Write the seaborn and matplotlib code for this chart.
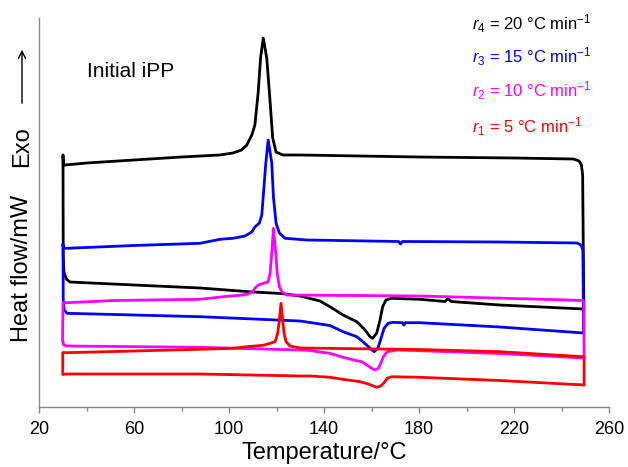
import numpy as np
import pandas as pd
import matplotlib
matplotlib.use("Agg")
import matplotlib.pyplot as plt
import seaborn as sns

# DSC loops of initial iPP: cooling trace (upper, exotherm) and heating trace
# (lower, endotherm) joined at 30 and 250 °C, one closed loop per scan rate.

rate_labels = ["r4", "r3", "r2", "r1"]

r4_temp = [249.4, 248.9, 248.4, 247.4, 245.0, 220.0, 180.0, 130.0, 122.7, 119.8,
           118.4, 118.0, 117.0, 115.9, 114.4, 113.3, 112.3, 110.9, 109.6, 107.5,
           105.3, 101.7, 96.2, 80.0, 60.0, 40.0, 31.0, 30.3, 30.1, 30.2,
           30.5, 31.5, 33.0, 60.0, 87.8, 110.0, 122.0, 129.9, 134.1, 138.3, 142.5,
           148.0, 153.8, 157.3, 159.4, 160.5, 162.2, 163.6, 164.7, 166.1, 168.5,
           180.4, 191.0, 192.2, 193.5, 214.0, 249.4]
r4_flow = [9.7, 23.1, 24.1, 24.5, 24.7, 24.8, 24.9, 25.1, 25.1, 25.4,
           26.8, 28.1, 31.4, 34.8, 36.8, 34.8, 31.4, 28.1, 27.1, 26.1,
           25.6, 25.3, 25.1, 24.9, 24.6, 24.3, 24.1, 24.1, 25.1, 15.1,
           13.4, 12.7, 12.4, 12.1, 11.8, 11.4, 11.25, 11.0, 10.75, 10.5, 9.93,
           9.1, 8.43, 7.6, 6.93, 6.77, 7.3, 8.6, 9.93, 10.6, 10.77,
           10.67, 10.45, 10.75, 10.45, 10.1, 9.7]

r3_temp = [249.3, 249.0, 248.2, 246.5, 214.0, 173.0, 172.2, 171.4, 132.7, 123.6,
           121.2, 119.8, 118.7, 118.0, 116.5, 115.5, 114.4, 113.8, 112.8, 110.9,
           109.6, 106.7, 101.7, 96.2, 87.8, 60.0, 31.8, 30.3, 30.1, 30.2,
           30.6, 31.8, 60.0, 87.8, 129.9, 134.1, 138.3, 142.5, 148.0, 153.8,
           156.4, 159.4, 161.1, 162.7, 164.0, 165.3, 167.0, 169.1, 173.0, 173.6,
           174.2, 180.4, 214.0, 249.3]
r3_flow = [7.3, 15.6, 16.1, 16.3, 16.4, 16.45, 16.2, 16.45, 16.6, 16.77,
           17.3, 18.3, 20.93, 24.3, 26.6, 24.3, 20.93, 19.1, 18.3, 17.9,
           17.4, 17.0, 16.77, 16.67, 16.27, 16.05, 15.77, 15.8, 16.2, 10.6,
           9.6, 9.27, 9.1, 8.93, 8.5, 8.35, 8.2, 8.05, 7.43, 6.93,
           6.43, 5.77, 5.43, 5.77, 6.77, 7.77, 8.27, 8.37, 8.33, 8.1,
           8.33, 8.33, 7.9, 7.3]

r2_temp = [249.5, 249.4, 249.0, 235.0, 180.0, 124.3, 122.2, 121.2, 120.3, 119.7,
           118.7, 118.0, 117.3, 116.5, 114.4, 112.3, 110.9, 110.0, 108.1, 104.6,
           100.4, 87.8, 52.0, 31.8, 30.1, 29.9, 30.4, 31.8, 87.8, 129.9,
           134.1, 138.3, 142.5, 148.0, 153.8, 155.9, 158.0, 160.1, 161.5, 162.9,
           163.9, 165.0, 166.6, 170.6, 180.4, 214.0, 249.5]
r2_flow = [4.8, 10.4, 10.55, 10.65, 11.0, 11.1, 11.43, 11.93, 13.27, 15.27,
           17.77, 15.27, 13.27, 12.43, 12.27, 12.1, 11.77, 11.43, 11.2, 11.07,
           11.0, 10.67, 10.55, 10.33, 10.35, 6.6, 6.1, 6.0, 5.87, 5.6,
           5.55, 5.4, 5.27, 4.87, 4.53, 4.43, 4.1, 3.77, 3.6, 3.77,
           4.27, 4.93, 5.43, 5.6, 5.53, 5.25, 4.8]

r1_temp = [249.5, 249.5, 249.0, 214.0, 180.0, 129.9, 125.7, 124.0, 123.2, 122.6,
           121.9, 121.2, 120.5, 119.4, 117.3, 114.4, 107.5, 101.7, 87.8, 31.8,
           30.0, 30.0, 31.8, 87.8, 129.9, 134.1, 142.5, 148.0, 155.2, 158.7,
           162.2, 163.9, 165.3, 166.6, 168.5, 180.4, 214.0, 249.5]
r1_flow = [2.1, 4.9, 4.93, 5.43, 5.65, 5.8, 6.0, 6.43, 7.27, 8.6,
           10.27, 8.6, 7.27, 6.43, 6.27, 6.07, 5.93, 5.77, 5.67, 5.33,
           5.35, 3.15, 3.2, 3.2, 3.0, 3.0, 2.87, 2.67, 2.43, 2.2,
           1.87, 2.0, 2.33, 2.77, 2.93, 2.87, 2.55, 2.1]

rate_texts = [r"$r_4$ = 20 °C min$^{-1}$", r"$r_3$ = 15 °C min$^{-1}$",
              r"$r_2$ = 10 °C min$^{-1}$", r"$r_1$ = 5 °C min$^{-1}$"]
colors = ["#000000", "#0000ff", "#ff00ff", "#ff0000"]

xticks = [20, 60, 100, 140, 180, 220, 260]

frames = []
for lab, t, f in zip(rate_labels,
                     [r4_temp, r3_temp, r2_temp, r1_temp],
                     [r4_flow, r3_flow, r2_flow, r1_flow]):
    frames.append(pd.DataFrame({"Temperature": t, "HeatFlow": f, "rate": lab}))
df = pd.concat(frames, ignore_index=True)

sns.set_style("ticks")
plt.rcParams["font.family"] = ["Liberation Sans", "DejaVu Sans"]
plt.rcParams["mathtext.fontset"] = "custom"
plt.rcParams["mathtext.rm"] = "Liberation Sans"
plt.rcParams["mathtext.it"] = "Liberation Sans:italic"
plt.rcParams["text.color"] = "black"
plt.rcParams["axes.labelcolor"] = "black"
plt.rcParams["xtick.color"] = "black"
plt.rcParams["ytick.color"] = "black"

fig = plt.figure(figsize=(6.28, 4.67), dpi=100)
ax = fig.add_axes([39 / 628, 60 / 467, 570 / 628, 389 / 467])

sns.lineplot(data=df, x="Temperature", y="HeatFlow", hue="rate",
             hue_order=rate_labels, palette=colors, sort=False,
             estimator=None, legend=False, linewidth=2.0, ax=ax)
for ln in ax.get_lines():
    ln.set_solid_joinstyle("round")
    ln.set_solid_capstyle("round")

ax.set_xlim(20, 260)
ax.set_ylim(-0.1, 38.8)
ax.set_xticks(xticks)
ax.set_xticks([40, 80, 120, 160, 200, 240], minor=True)
ax.set_yticks([])
ax.tick_params(axis="x", which="major", direction="out", length=4, width=1,
               color="#888888", labelcolor="black", labelsize=13, pad=6)
ax.tick_params(axis="x", which="minor", direction="out", length=3, width=1,
               color="#888888")
for side in ["top", "right"]:
    ax.spines[side].set_visible(False)
for side in ["left", "bottom"]:
    ax.spines[side].set_color("#888888")
    ax.spines[side].set_linewidth(1.0)

ax.set_xlabel("Temperature/°C", fontsize=17, labelpad=3, color="black")
ax.set_ylabel("")

fig.text(22 / 628, 1 - 268 / 467, "Heat flow/mW", rotation=90,
         fontsize=17, ha="center", va="center", color="black")
fig.text(22 / 628, 1 - 147 / 467, "Exo", rotation=90,
         fontsize=17, ha="center", va="center", color="black")
# upward arrow marking the exothermic direction
ax.annotate("", xy=(22 / 628, 1 - 47 / 467), xytext=(22 / 628, 1 - 106 / 467),
            xycoords="figure fraction", textcoords="figure fraction",
            arrowprops=dict(arrowstyle="->,head_length=0.5,head_width=0.25",
                            color="black", lw=1.0))

ax.text(0.0842, 0.848, "Initial iPP", transform=ax.transAxes,
        fontsize=15, ha="left", va="baseline", color="black")

baselines = [0.969, 0.884, 0.797, 0.704]
for txt, c, yb in zip(rate_texts, colors, baselines):
    ax.text(0.7596, yb, txt, transform=ax.transAxes, color=c,
            fontsize=12, ha="left", va="baseline")

fig.savefig("out.png", dpi=100)
